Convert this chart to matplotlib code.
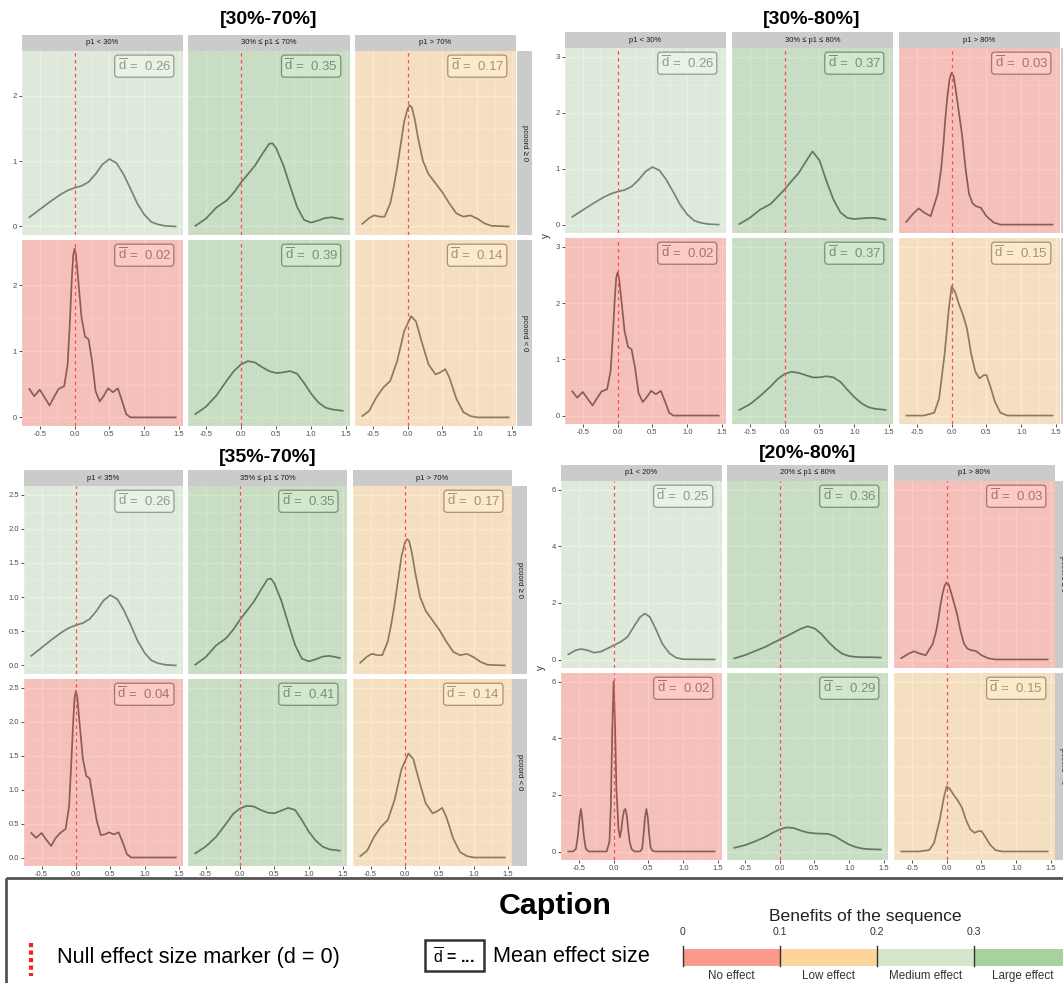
import numpy as np
import matplotlib.pyplot as plt
from matplotlib.patches import Rectangle
from matplotlib import font_manager

plt.rcParams['font.family'] = ['Liberation Sans', 'DejaVu Sans']
plt.rcParams['mathtext.fontset'] = 'custom'
plt.rcParams['mathtext.rm'] = 'Liberation Sans'

# caption uses a condensed face when it is there
installed = {f.name for f in font_manager.fontManager.ttflist}
narrow = 'Liberation Sans Narrow' in installed
cap_family = ['Liberation Sans Narrow', 'Liberation Sans'] if narrow else ['Liberation Sans']
cs = 1.0 if narrow else 0.84   # shrink the size when only the wide face exists

# ---- density curves (x = effect size d, y = density) ----
x_grid = [-0.65, -0.5, -0.35, -0.2, -0.1, 0, 0.1, 0.2, 0.3, 0.4, 0.5, 0.6, 0.7, 0.8, 0.9, 1.0, 1.1, 1.2, 1.3, 1.45]

y_a = [0.14, 0.26, 0.38, 0.49, 0.55, 0.59, 0.62, 0.68, 0.8, 0.95, 1.03, 0.97, 0.8, 0.58, 0.35, 0.18, 0.07, 0.03, 0.01, 0.0]

x_b = [-0.65, -0.5, -0.35, -0.2, -0.1, 0, 0.1, 0.2, 0.3, 0.4, 0.45, 0.5, 0.6, 0.7, 0.8, 0.9, 1.0, 1.1, 1.2, 1.3, 1.45]
y_b = [0.01, 0.12, 0.29, 0.4, 0.52, 0.67, 0.8, 0.93, 1.1, 1.26, 1.27, 1.2, 0.95, 0.62, 0.3, 0.1, 0.06, 0.09, 0.13, 0.14, 0.11]

x_c = [-0.65, -0.55, -0.48, -0.4, -0.33, -0.25, -0.2, -0.15, -0.1, -0.05, 0, 0.03, 0.06, 0.1, 0.15, 0.22, 0.3, 0.4, 0.5,
       0.6, 0.7, 0.8, 0.9, 1.0, 1.1, 1.2, 1.45]
y_c = [0.04, 0.13, 0.17, 0.15, 0.15, 0.35, 0.6, 0.9, 1.25, 1.6, 1.8, 1.85, 1.82, 1.65, 1.35, 1.0, 0.8, 0.66, 0.52,
       0.35, 0.2, 0.15, 0.17, 0.12, 0.05, 0.01, 0.0]

x_d = [-0.65, -0.58, -0.5, -0.43, -0.36, -0.3, -0.23, -0.15, -0.1, -0.07, -0.04, -0.02, 0, 0.02, 0.05, 0.1, 0.15, 0.2,
       0.25, 0.3, 0.36, 0.42, 0.48, 0.55, 0.62, 0.68, 0.74, 0.8, 1.0, 1.45]
y_d = [0.43, 0.32, 0.42, 0.3, 0.18, 0.3, 0.43, 0.47, 0.8, 1.4, 2.1, 2.45, 2.55, 2.45, 2.1, 1.5, 1.22, 1.18,
       0.85, 0.4, 0.24, 0.33, 0.44, 0.38, 0.44, 0.25, 0.05, 0.0, 0.0, 0.0]
y_d2 = [0.36, 0.29, 0.36, 0.26, 0.17, 0.28, 0.36, 0.42, 0.75, 1.35, 2.0, 2.35, 2.45, 2.35, 2.0, 1.45, 1.2, 1.16,
        0.85, 0.55, 0.33, 0.34, 0.37, 0.34, 0.37, 0.22, 0.05, 0.0, 0.0, 0.0]

y_e = [0.05, 0.16, 0.33, 0.56, 0.7, 0.8, 0.85, 0.83, 0.76, 0.7, 0.67, 0.68, 0.7, 0.66, 0.52, 0.36, 0.23, 0.15, 0.12, 0.1]
y_e2 = [0.06, 0.16, 0.3, 0.5, 0.64, 0.72, 0.76, 0.75, 0.7, 0.66, 0.65, 0.69, 0.73, 0.7, 0.55, 0.38, 0.25, 0.16, 0.12, 0.1]

x_f = [-0.65, -0.55, -0.45, -0.35, -0.25, -0.15, -0.05, 0.05, 0.12, 0.2, 0.3, 0.4, 0.47, 0.54, 0.6, 0.7, 0.8, 0.9, 1.0, 1.45]
y_f = [0.02, 0.1, 0.3, 0.45, 0.55, 0.85, 1.3, 1.53, 1.45, 1.15, 0.8, 0.65, 0.68, 0.73, 0.6, 0.28, 0.08, 0.02, 0.0, 0.0]

y_g = [0.01, 0.12, 0.27, 0.37, 0.5, 0.63, 0.78, 0.92, 1.12, 1.31, 1.15, 0.78, 0.45, 0.22, 0.12, 0.1, 0.11, 0.12, 0.12, 0.09]

x_h = [-0.65, -0.55, -0.47, -0.4, -0.3, -0.2, -0.15, -0.12, -0.09, -0.06, -0.03, 0, 0.03, 0.06, 0.1, 0.15, 0.2, 0.25,
       0.3, 0.35, 0.42, 0.5, 0.6, 0.7, 1.0, 1.45]
y_h = [0.05, 0.2, 0.29, 0.22, 0.15, 0.55, 1.0, 1.4, 1.9, 2.3, 2.6, 2.72, 2.65, 2.4, 2.05, 1.6, 1.0, 0.55,
       0.38, 0.33, 0.3, 0.15, 0.04, 0.0, 0.0, 0.0]

y_j = [0.1, 0.2, 0.35, 0.52, 0.65, 0.74, 0.78, 0.76, 0.72, 0.68, 0.68, 0.7, 0.68, 0.6, 0.46, 0.33, 0.22, 0.15, 0.12, 0.1]

x_l = [-0.65, -0.55, -0.47, -0.38, -0.28, -0.18, -0.08, 0, 0.1, 0.2, 0.3, 0.38, 0.45, 0.52, 0.6, 0.7, 0.8, 0.9, 1.0, 1.45]
y_l = [0.18, 0.32, 0.37, 0.33, 0.24, 0.28, 0.4, 0.5, 0.62, 0.8, 1.2, 1.5, 1.62, 1.5, 1.1, 0.55, 0.22, 0.06, 0.01, 0.0]

y_m = [0.04, 0.15, 0.3, 0.45, 0.58, 0.7, 0.82, 0.95, 1.08, 1.17, 1.1, 0.9, 0.62, 0.38, 0.2, 0.12, 0.09, 0.08, 0.08, 0.07]

x_o = [-0.65, -0.58, -0.54, -0.51, -0.49, -0.47, -0.45, -0.43, -0.4, -0.36, -0.1, -0.06, -0.04, -0.02, 0, 0.02, 0.04, 0.07, 0.09, 0.11,
       0.13, 0.15, 0.17, 0.19, 0.21, 0.23, 0.26, 0.3, 0.38, 0.41, 0.43, 0.45, 0.47, 0.49, 0.51, 0.53, 0.56, 0.6, 1.45]
y_o = [0, 0, 0.1, 0.6, 1.15, 1.5, 1.15, 0.6, 0.1, 0, 0, 0.35, 1.6, 4.2, 6.0, 4.5, 2.2, 0.8, 0.5, 0.75,
       1.2, 1.45, 1.5, 1.25, 0.75, 0.35, 0.08, 0, 0, 0.1, 0.6, 1.2, 1.5, 1.2, 0.6, 0.15, 0.02, 0, 0]

y_p = [0.13, 0.22, 0.36, 0.52, 0.66, 0.78, 0.85, 0.83, 0.74, 0.67, 0.64, 0.63, 0.62, 0.53, 0.38, 0.24, 0.15, 0.1, 0.08, 0.07]

x_q = [-0.65, -0.4, -0.25, -0.18, -0.1, -0.04, 0, 0.05, 0.1, 0.16, 0.22, 0.28, 0.34, 0.4, 0.46, 0.5, 0.56, 0.62, 0.7, 0.8, 1.45]
y_q = [0.0, 0.0, 0.05, 0.3, 1.1, 1.9, 2.3, 2.2, 2.0, 1.8, 1.55, 1.1, 0.78, 0.66, 0.72, 0.72, 0.5, 0.25, 0.05, 0.0, 0.0]

# ---- panel annotations ----
tl_means = [[0.26, 0.35, 0.17], [0.02, 0.39, 0.14]]
tr_means = [[0.26, 0.37, 0.03], [0.02, 0.37, 0.15]]
bl_means = [[0.26, 0.35, 0.17], [0.04, 0.41, 0.14]]
br_means = [[0.25, 0.36, 0.03], [0.02, 0.29, 0.15]]

tl_effect = [['medium', 'large', 'low'], ['none', 'large', 'low']]
tr_effect = [['medium', 'large', 'none'], ['none', 'large', 'low']]
bl_effect = [['medium', 'large', 'low'], ['none', 'large', 'low']]
br_effect = [['medium', 'large', 'none'], ['none', 'large', 'low']]

row_labels = ['pcoord \u2265 0', 'pcoord < 0']
x_ticks = [-0.5, 0.0, 0.5, 1.0, 1.5]
x_tick_labels = ['-0.5', '0.0', '0.5', '1.0', '1.5']

fill = {'none': '#fb998b', 'low': '#fdd59b', 'medium': '#d3e7cd', 'large': '#a7d19f'}
effect_breaks = [0, 0.1, 0.2, 0.3]
effect_keys = ['none', 'low', 'medium', 'large']
effect_names = ['No effect', 'Low effect', 'Medium effect', 'Large effect']

W, H = 1063, 983
fig = plt.figure(figsize=(W / 100, H / 100), dpi=100)

# pixel canvas for titles and the caption
canvas = fig.add_axes([0, 0, 1, 1])
canvas.set_xlim(0, W)
canvas.set_ylim(H, 0)
canvas.axis('off')


def px_axes(x0, y0, x1, y1):
    return fig.add_axes([x0 / W, 1 - y1 / H, (x1 - x0) / W, (y1 - y0) / H])


def strip(x0, y0, x1, y1, label, rot=0):
    s = px_axes(x0, y0, x1, y1)
    s.set_facecolor('#cbcbcb')
    s.set_xticks([])
    s.set_yticks([])
    for sp in s.spines.values():
        sp.set_visible(False)
    s.text(0.5, 0.5, label, transform=s.transAxes, ha='center', va='center',
           fontsize=5.5, color='#1a1a1a', rotation=rot)


def draw_block(title, tpos, cols, rows, strip_y, rstrip_x, col_labels, curves,
               means, effects, ylim, yticks, ylabels):
    canvas.text(tpos[0], tpos[1], title, ha='center', va='center', fontsize=14, fontweight='bold')
    for j, (cx0, cx1) in enumerate(cols):
        strip(cx0, strip_y[0], cx1, strip_y[1], col_labels[j])
    for i, (ry0, ry1) in enumerate(rows):
        strip(rstrip_x[0], ry0, rstrip_x[1], ry1, row_labels[i], rot=-90)
        for j, (cx0, cx1) in enumerate(cols):
            ax = px_axes(cx0, ry0, cx1, ry1)
            ax.set_facecolor('#ebebeb')
            ax.set_xlim(-0.755, 1.555)
            ax.set_ylim(ylim)
            ax.set_xticks(x_ticks)
            ax.set_xticks([-0.75, -0.25, 0.25, 0.75, 1.25], minor=True)
            ax.set_yticks(yticks)
            ax.set_yticks([(a + b) / 2 for a, b in zip(yticks[:-1], yticks[1:])], minor=True)
            ax.set_axisbelow(True)
            ax.grid(which='major', color='white', lw=0.9)
            ax.grid(which='minor', color='white', lw=0.45)
            for sp in ax.spines.values():
                sp.set_visible(False)
            ax.tick_params(which='minor', length=0)
            ax.tick_params(which='major', length=2, width=0.6, color='#333333',
                           labelsize=5.5, labelcolor='#4d4d4d', pad=1.5)
            if i == len(rows) - 1:
                ax.set_xticklabels(x_tick_labels)
            else:
                ax.tick_params(axis='x', bottom=False, labelbottom=False)
            if j == 0:
                ax.set_yticklabels(ylabels)
            else:
                ax.tick_params(axis='y', left=False, labelleft=False)

            xs, ys = curves[i][j]
            ax.plot(xs, ys, color='#1e1e1e', lw=1.25, zorder=2, solid_joinstyle='round')
            ax.text(0.925, 0.962, r'$\overline{\mathrm{d}}$ =  ' + f'{means[i][j]:.2f}',
                    transform=ax.transAxes, ha='right', va='top', fontsize=9.5, color='#4d4d4d',
                    zorder=2.5, bbox=dict(boxstyle='round,pad=0.22,rounding_size=0.25',
                                          fc='white', ec='#4d4d4d', lw=0.9))
            ax.add_patch(Rectangle((0, 0), 1, 1, transform=ax.transAxes, fc=fill[effects[i][j]],
                                   alpha=0.5, lw=0, zorder=3))
            ax.axvline(0, color='#ff4d4d', lw=0.9, ls=(0, (3, 2.5)), zorder=4)


draw_block('[30%-70%]', (269, 20),
           [(22, 183), (188, 350), (355, 516)], [(51, 235), (240, 426)], (35, 51), (517, 532),
           ['p1 < 30%', '30% \u2264 p1 \u2264 70%', 'p1 > 70%'],
           [[(x_grid, y_a), (x_b, y_b), (x_c, y_c)], [(x_d, y_d), (x_grid, y_e), (x_f, y_f)]],
           tl_means, tl_effect, (-0.13, 2.68), [0, 1, 2], ['0', '1', '2'])

draw_block('[30%-80%]', (812, 20),
           [(565, 726), (732, 893), (899, 1060)], [(48, 233), (238, 424)], (32, 48), (1061, 1076),
           ['p1 < 30%', '30% \u2264 p1 \u2264 80%', 'p1 > 80%'],
           [[(x_grid, y_a), (x_grid, y_g), (x_h, y_h)], [(x_d, y_d), (x_grid, y_j), (x_q, y_q)]],
           tr_means, tr_effect, (-0.15, 3.16), [0, 1, 2, 3], ['0', '1', '2', '3'])

draw_block('[35%-70%]', (268, 458),
           [(24, 183), (188, 347), (353, 512)], [(486, 674), (679, 866)], (470, 486), (512, 527),
           ['p1 < 35%', '35% \u2264 p1 \u2264 70%', 'p1 > 70%'],
           [[(x_grid, y_a), (x_b, y_b), (x_c, y_c)], [(x_d, y_d2), (x_grid, y_e2), (x_f, y_f)]],
           bl_means, bl_effect, (-0.125, 2.625), [0, 0.5, 1, 1.5, 2, 2.5],
           ['0.0', '0.5', '1.0', '1.5', '2.0', '2.5'])

draw_block('[20%-80%]', (808, 453),
           [(561, 722), (727, 888), (894, 1055)], [(481, 668), (673, 860)], (465, 481), (1055, 1070),
           ['p1 < 20%', '20% \u2264 p1 \u2264 80%', 'p1 > 80%'],
           [[(x_l, y_l), (x_grid, y_m), (x_h, y_h)], [(x_o, y_o), (x_grid, y_p), (x_q, y_q)]],
           br_means, br_effect, (-0.3, 6.3), [0, 2, 4, 6], ['0', '2', '4', '6'])

canvas.text(546, 236, 'y', rotation=90, ha='center', va='center', fontsize=7, color='#222222')
canvas.text(541, 668, 'y', rotation=90, ha='center', va='center', fontsize=7, color='#222222')

# ---- caption ----
canvas.add_patch(Rectangle((6, 878), 1070, 120, fill=False, ec='#555555', lw=2))
canvas.text(555, 906, 'Caption', ha='center', va='center', fontsize=26 * cs, fontweight='bold',
            family=cap_family)
canvas.plot([31, 31], [943, 976], color='#ee2020', lw=3, ls=(0, (1, 0.8)))
canvas.text(57, 957, 'Null effect size marker (d = 0)', ha='left', va='center', fontsize=18.5 * cs,
            family=cap_family)
canvas.add_patch(Rectangle((425, 940), 59, 31, fill=False, ec='#333333', lw=1.8))
canvas.text(454, 957, r'$\overline{\mathrm{d}}$ = ...', ha='center', va='center', fontsize=11.5,
            fontweight='bold')
canvas.text(493, 957, 'Mean effect size', ha='left', va='center', fontsize=18.5 * cs, family=cap_family)
canvas.text(865, 917, 'Benefits of the sequence', ha='center', va='center', fontsize=15 * cs,
            color='#222222', family=cap_family)

bar = px_axes(683, 949, 1071, 966)
bar.set_xlim(0, 0.4)
bar.set_ylim(0, 1)
bar.axis('off')
for k, b in enumerate(effect_breaks):
    bar.barh(0.5, 0.1, left=b, height=1, color=fill[effect_keys[k]], lw=0)
    bar.plot([b, b], [0, 1.15], color='#333333', lw=1, clip_on=False)
    bar.text(b, 1.7, f'{b:g}', ha='center', va='bottom', fontsize=9 * cs, color='#333333',
             family=cap_family)
    bar.text(b + 0.05, -0.25, effect_names[k], ha='center', va='top', fontsize=10 * cs, color='#333333',
             family=cap_family)

fig.savefig('out.png', dpi=100)
